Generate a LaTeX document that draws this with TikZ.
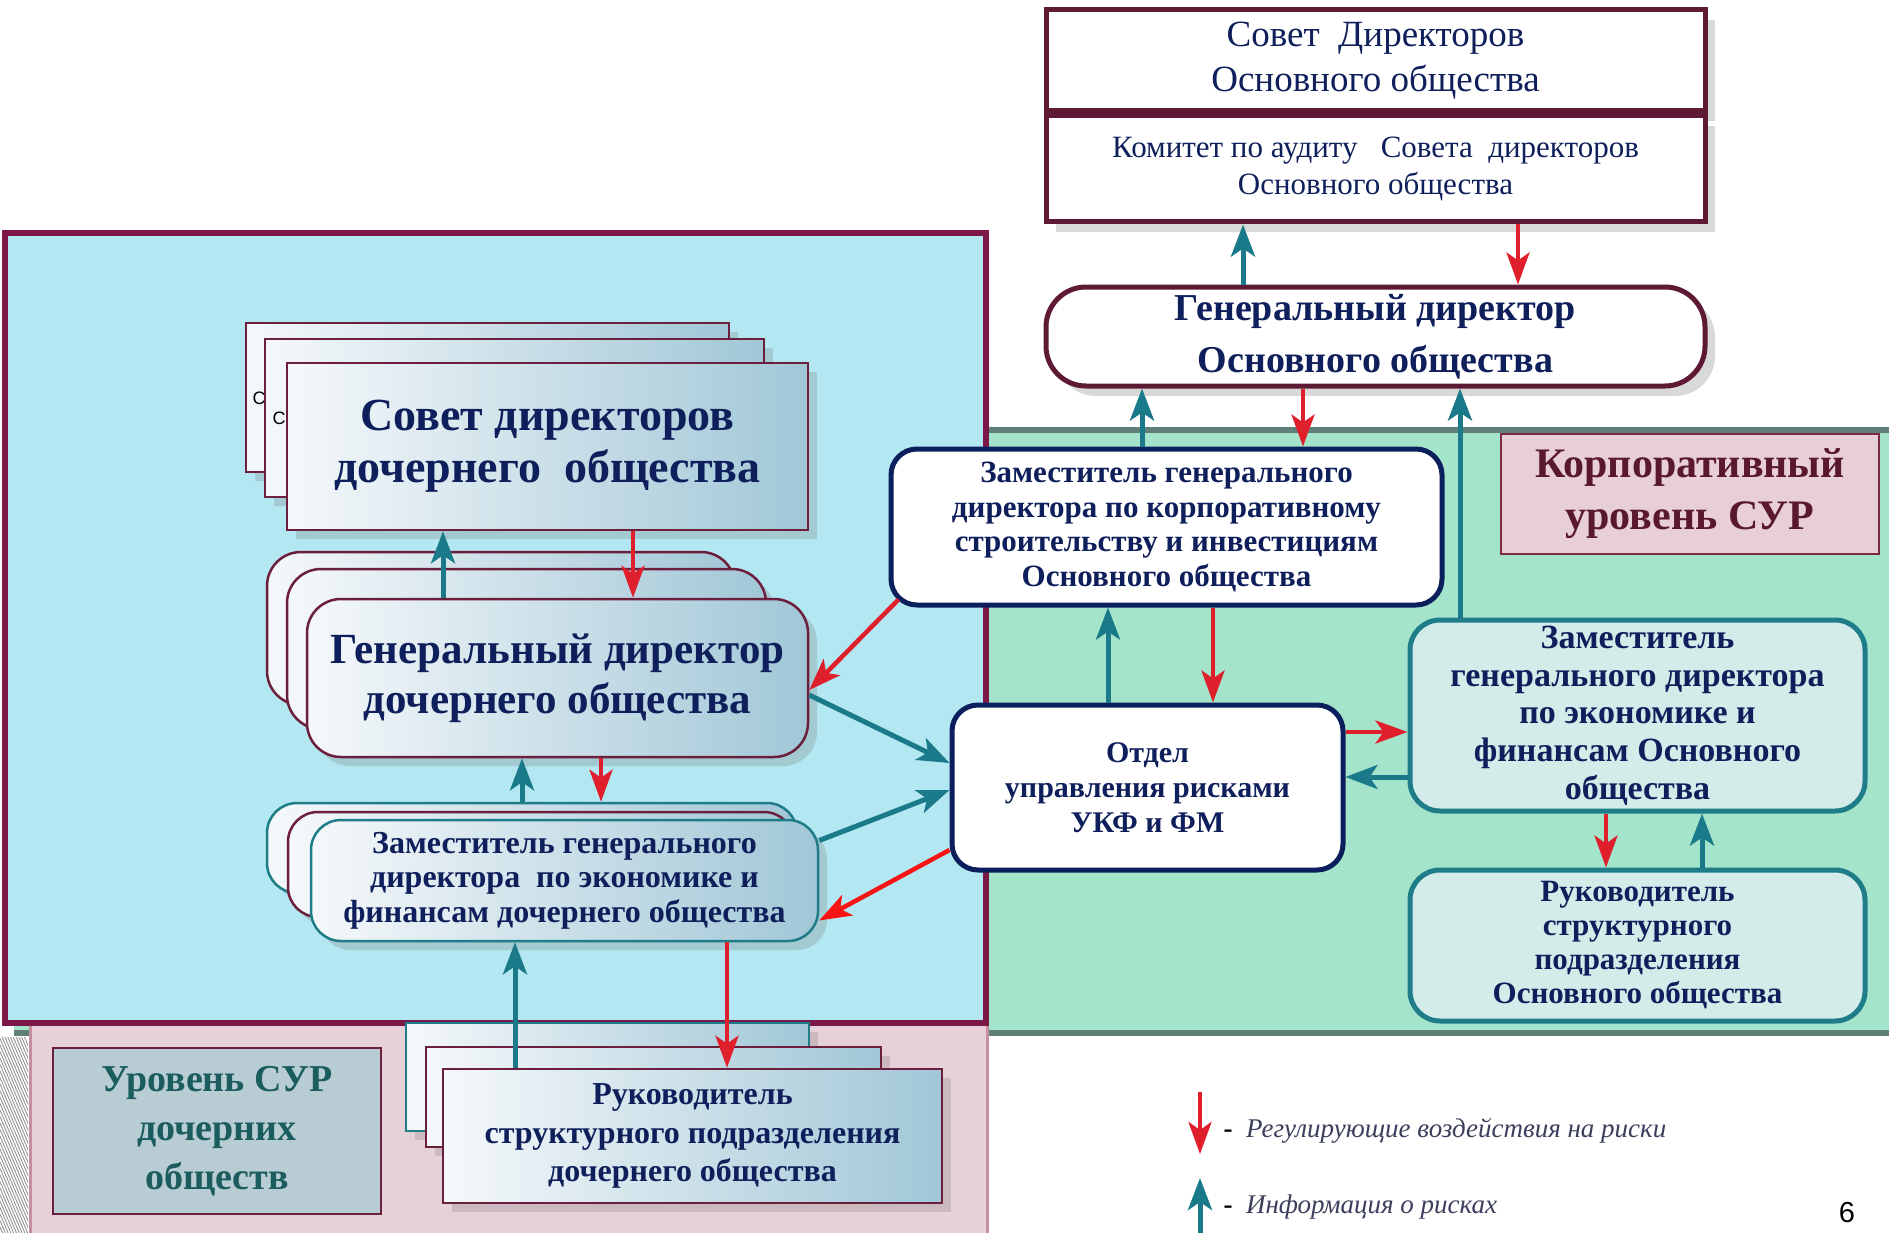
\documentclass[tikz,border=0pt]{standalone}
\usepackage{fontspec}
\setmainfont{Liberation Serif}
\newfontfamily\sansfont{Liberation Sans}
\usetikzlibrary{arrows.meta,positioning,shadows}
\definecolor{CyanBg}{HTML}{B3E7F1}
\definecolor{GreenBg}{HTML}{A3E4CB}
\definecolor{GreenLine}{HTML}{5F7F78}
\definecolor{PinkBg}{HTML}{E7D1D8}
\definecolor{PinkLine}{HTML}{C4909F}
\definecolor{FrameRed}{HTML}{7B1848}
\definecolor{BoxRed}{HTML}{5E1A34}
\definecolor{GradLine}{HTML}{6B1F3C}
\definecolor{NavyTxt}{HTML}{0E1F5B}
\definecolor{NavyLine}{HTML}{0A1F5C}
\definecolor{TealLine}{HTML}{1F7C89}
\definecolor{TealFill}{HTML}{D3ECEA}
\definecolor{InfoTeal}{HTML}{1A7A8A}
\definecolor{RegRed}{HTML}{E01F2D}
\definecolor{BrightRed}{HTML}{F81414}
\definecolor{KorpFill}{HTML}{E7CFD5}
\definecolor{KorpTxt}{HTML}{5A1830}
\definecolor{KorpLine}{HTML}{7A2A45}
\definecolor{LevelFill}{HTML}{B8CCD3}
\definecolor{LevelTxt}{HTML}{1B5C5E}
\definecolor{GradL}{HTML}{F5F8FA}
\definecolor{GradR}{HTML}{A1C7D7}
\definecolor{LegTxt}{HTML}{3C3F5C}
\definecolor{HatchGrey}{HTML}{8C8C8C}
\newcommand\fsz[2]{\fontsize{#1}{#2}\selectfont}
\tikzset{
  % Base box
  BX/.style={rectangle,inner sep=0pt,align=center,text=NavyTxt},
  % Parent company top boxes
  TB/.style={BX,fill=white,draw=BoxRed,line width=5pt,minimum width=659pt,
             drop shadow={shadow xshift=10pt,shadow yshift=-10pt,opacity=0.3}},
  % Rounded white boxes
  WR/.style={BX,fill=white,draw=NavyLine,line width=5pt,rounded corners=26pt},
  % Rounded teal boxes
  TR/.style={BX,fill=TealFill,draw=TealLine,line width=5pt,rounded corners=30pt,
             minimum width=455pt},
  % Gradient boxes of the subsidiary
  GB/.style={BX,draw=GradLine,line width=2.5pt,left color=GradL,right color=GradR,
             drop shadow={shadow xshift=9pt,shadow yshift=-9pt,opacity=0.28}},
  GR/.style={GB,rounded corners=34pt},
  GT/.style={GR,draw=TealLine},
  % Level labels
  LV/.style={BX,line width=2.5pt},
  % Arrows
  inf/.style={draw=InfoTeal,line width=5pt,-{Stealth[length=32pt,width=24pt,inset=8pt]}},
  rg/.style={draw=RegRed,line width=4.5pt,-{Stealth[length=32pt,width=23pt,inset=8pt]}}
}
\begin{document}
\begin{tikzpicture}[x=1pt,y=-1pt]
  \useasboundingbox (0,0) rectangle (1889,1233);
  % regions
  \fill[GreenBg] (14,430) rectangle (1889,1033);
  \draw[GreenLine,line width=6pt] (14,430) -- (1889,430);
  \draw[GreenLine,line width=6pt] (14,1033) -- (1889,1033);
  \filldraw[fill=PinkBg,draw=PinkLine,line width=3pt] (30,1024) rectangle (987,1245);
  \begin{scope}
    \clip (0,1037) rectangle (28,1233);
    \foreach \k in {0,...,40}
      \draw[HatchGrey,line width=0.8pt] (0,980+\k*6.5) -- (30,1050+\k*6.5);
  \end{scope}
  \filldraw[fill=CyanBg,draw=FrameRed,line width=6pt] (5,233) rectangle (986,1023);

  % parent company
  \node[TB,minimum height=101pt,font=\fsz{37}{45}] (sovO) at (1375.5,60.5)
    {Совет\ \ Директоров\\Основного общества};
  \node[TB,minimum height=106pt,below=0pt of sovO,font=\fsz{31}{37}] (komO)
    {Комитет по аудиту\ \ \ Совета\ \ директоров\\Основного общества};
  \node[TB,rounded corners=40pt,minimum height=99pt,below=60pt of komO,
        font=\fsz{38}{52}\bfseries] (gdO) {Генеральный директор\\Основного общества};
  \node[LV,fill=KorpFill,draw=KorpLine,text=KorpTxt,minimum width=378pt,
        minimum height=120pt,font=\fsz{42}{52}\bfseries] (korp) at (1690,494)
    {Корпоративный\\уровень СУР};
  \node[WR,minimum width=551pt,minimum height=156pt,font=\fsz{31}{34.6}\bfseries]
    (zkO) at (1166.5,527) {Заместитель генерального\\директора по корпоративному\\строительству и инвестициям\\Основного общества};
  \node[WR,minimum width=391pt,minimum height=165pt,font=\fsz{30}{35}\bfseries]
    (otd) at (1147.5,787.5) {Отдел\\управления рисками\\УКФ и ФМ};
  \node[TR,minimum height=191pt,font=\fsz{34}{37.6}\bfseries] (zeO) at (1637.5,715.5)
    {Заместитель\\генерального директора\\по экономике и\\финансам Основного\\общества};
  \node[TR,minimum height=151pt,below=54pt of zeO,font=\fsz{31}{34}\bfseries] (rukO)
    {Руководитель\\структурного\\подразделения\\Основного общества};

  % subsidiary
  \node[GB,minimum width=483pt,minimum height=149pt] (sovD1) at (487.5,397.5) {};
  \node[font=\sansfont\fsz{18}{20}] (c1) at (259,398) {С};
  \node[GB,minimum width=499pt,minimum height=158pt] (sovD2) at (514.5,418) {};
  \node[font=\sansfont\fsz{18}{20}] (c2) at (279,418) {С};
  \node[GB,minimum width=521pt,minimum height=167pt,font=\fsz{46}{52}\bfseries]
    (sovD) at (547.5,446.5) {Совет директоров\\дочернего\ \ общества};

  \node[GR,minimum width=468pt,minimum height=153pt] (gdD1) at (501,628.5) {};
  \node[GR,minimum width=479pt,minimum height=160pt] (gdD2) at (526.5,649) {};
  \node[GR,minimum width=501pt,minimum height=158pt,font=\fsz{43}{50}\bfseries]
    (gdD) at (557.5,678) {Генеральный директор\\дочернего общества};

  \node[GT,rounded corners=30pt,minimum width=530pt,minimum height=90pt] (zeD1) at (532,848) {};
  \node[GR,rounded corners=30pt,minimum width=506pt,minimum height=105pt] (zeD2) at (541,864.5) {};
  \node[GT,rounded corners=30pt,minimum width=507pt,minimum height=121pt,
        font=\fsz{32}{34.4}\bfseries] (zeD) at (564.5,880.5)
    {Заместитель генерального\\директора\ \ по экономике и\\финансам дочернего общества};

  \node[GB,draw=TealLine,minimum width=403pt,minimum height=108pt] (rukD1) at (607.5,1077) {};
  \node[GB,minimum width=455pt,minimum height=100pt] (rukD2) at (653.5,1097) {};
  \node[GB,minimum width=499pt,minimum height=134pt,font=\fsz{32}{38.5}\bfseries]
    (rukD) at (692.5,1136) {Руководитель\\структурного подразделения\\дочернего общества};

  \node[LV,fill=LevelFill,draw=GradLine,text=LevelTxt,minimum width=328pt,
        minimum height=166pt,font=\fsz{38}{49}\bfseries] (lvD) at (217,1131)
    {Уровень СУР\\дочерних\\обществ};

  % arrows, parent company
  \draw[inf] ([xshift=-132.5pt]gdO.north) -- ([xshift=-132.5pt]komO.south);
  \draw[rg] ([xshift=142.5pt]komO.south) -- ([xshift=142.5pt]gdO.north);
  \draw[inf] ([xshift=-24.5pt]zkO.north) -- ([xshift=-24.5pt]zkO.north |- gdO.south);
  \draw[rg] ([xshift=-72.5pt]gdO.south) -- ([xshift=-72.5pt]gdO.south |- zkO.north);
  \draw[inf] ([xshift=-177.5pt]zeO.north) -- ([xshift=-177.5pt]zeO.north |- gdO.south);
  \draw[inf] ([xshift=-39.5pt]otd.north) -- ([xshift=-39.5pt]otd.north |- zkO.south);
  \draw[rg] ([xshift=46.5pt]zkO.south) -- ([xshift=46.5pt]zkO.south |- otd.north);
  \draw[rg] ([yshift=55.5pt]otd.east) -- ([yshift=55.5pt]otd.east -| zeO.west);
  \draw[inf] ([yshift=-61.5pt]zeO.west) -- ([yshift=-61.5pt]zeO.west -| otd.east);
  \draw[rg] ([xshift=-31.5pt]zeO.south) -- ([xshift=-31.5pt]zeO.south |- rukO.north);
  \draw[inf] ([xshift=64.5pt]rukO.north) -- ([xshift=64.5pt]rukO.north |- zeO.south);

  % arrows, subsidiary
  \draw[inf] ([xshift=-114.5pt]gdD.north) -- ([xshift=-114.5pt]gdD.north |- sovD.south);
  \draw[rg] ([xshift=85.5pt]sovD.south) -- ([xshift=85.5pt]sovD.south |- gdD.north);
  \draw[inf] ([xshift=-10pt]zeD1.north) -- ([xshift=-10pt]zeD1.north |- gdD.south);
  \draw[rg] ([xshift=43.5pt]gdD.south) -- ([xshift=43.5pt]gdD.south |- zeD1.north);
  \draw[inf] ([xshift=-177.5pt]rukD.north) -- ([xshift=-177.5pt]rukD.north |- zeD.south);
  \draw[rg] ([xshift=162.5pt]zeD.south) -- ([xshift=162.5pt]zeD.south |- rukD.north);

  % arrows across levels
  \draw[rg] ([xshift=10pt,yshift=8pt]zkO.south west) -- ([yshift=-12pt]gdD.east);
  \draw[inf] ([yshift=-17pt]gdD.east) -- ([yshift=24.5pt]otd.west);
  \draw[inf] ([yshift=40pt]zeD.east) -- ([yshift=-2.5pt]otd.west);
  \draw[rg,draw=BrightRed] ([yshift=-62.5pt]otd.west) -- ([yshift=-40pt]zeD.east);

  % legend
  \coordinate (lr1) at (1200,1092);
  \coordinate (lr2) at (1200,1154);
  \draw[rg] (lr1) -- (lr2);
  \node[anchor=west,font=\fsz{27}{30}\itshape,text=LegTxt] (legR) at (1220,1131)
    {{\upshape\bfseries\color{black}-}\ \ Регулирующие воздействия на риски};
  \coordinate (li1) at (1200,1240);
  \coordinate (li2) at (1200,1178);
  \draw[inf] (li1) -- (li2);
  \node[anchor=west,font=\fsz{27}{30}\itshape,text=LegTxt] (legI) at (1220,1207)
    {{\upshape\bfseries\color{black}-}\ \ Информация о рисках};
  \node[font=\sansfont\fsz{29}{30}] (pg) at (1847,1213) {6};
\end{tikzpicture}
\end{document}
